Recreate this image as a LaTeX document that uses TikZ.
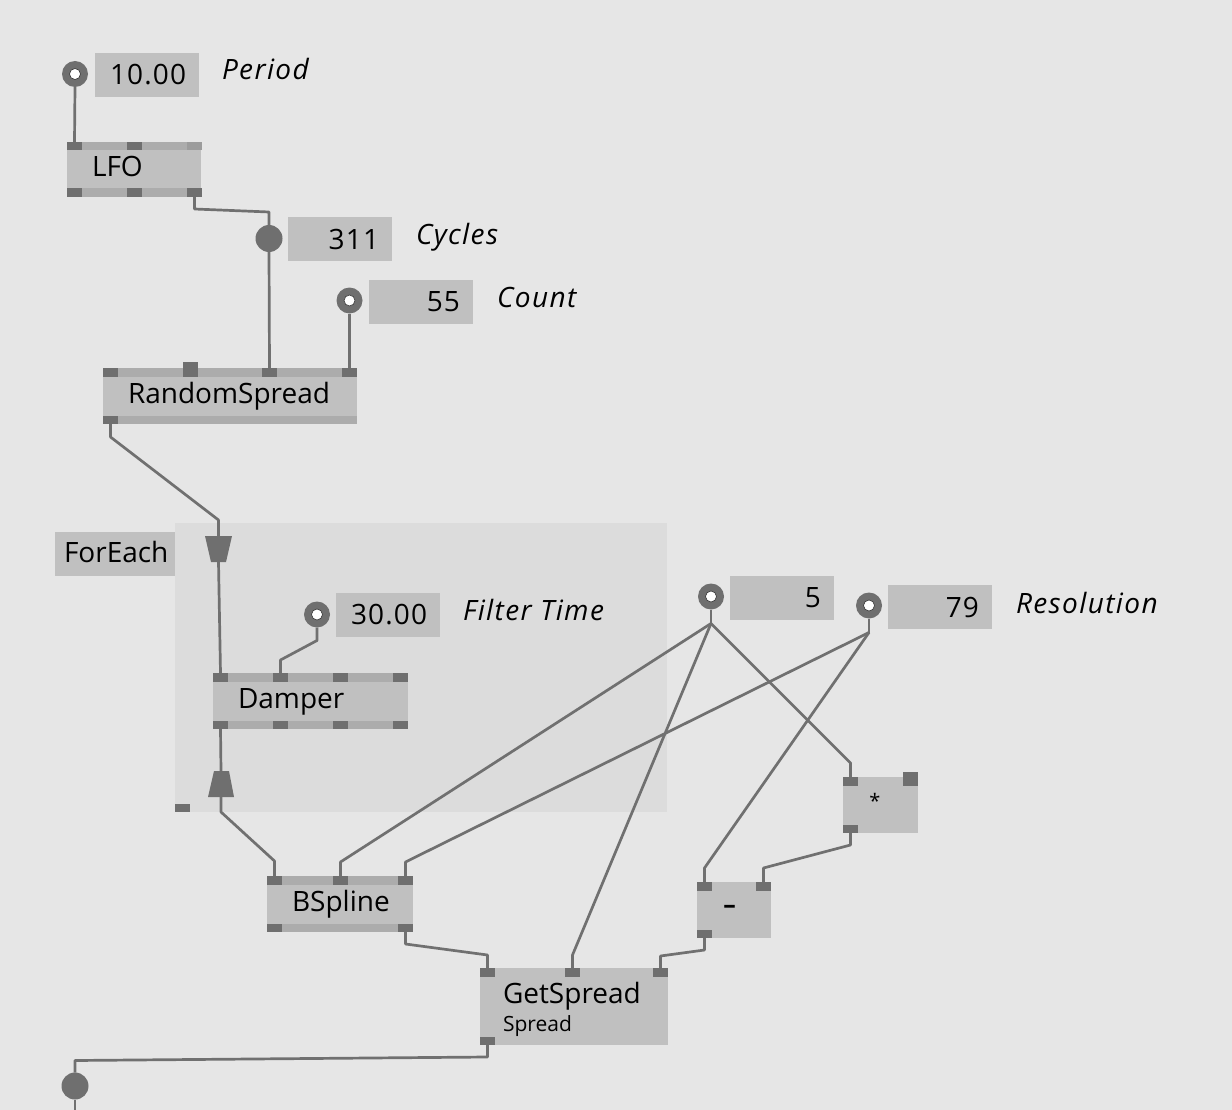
\documentclass[tikz,border=0pt]{standalone}
\usepackage{fontspec}
\setmainfont{Open Sans}
\definecolor{bgc}{HTML}{E6E6E6}
\definecolor{regc}{HTML}{DCDCDC}
\definecolor{boxc}{HTML}{C0C0C0}
\definecolor{stripc}{HTML}{ACACAC}
\definecolor{pinc}{HTML}{6F6F6F}
\definecolor{pinl}{HTML}{9C9C9C}
\definecolor{wirec}{HTML}{707070}
\begin{document}
\begin{tikzpicture}[x=1pt,y=-1pt,
  every node/.style={inner sep=0pt,outer sep=0pt},
  nodebox/.style={fill=boxc,anchor=north west},
  stripbox/.style={fill=stripc,anchor=north west,minimum height=8.5pt},
  pinbox/.style={fill=pinc,anchor=north west,minimum width=15pt,minimum height=8.5pt},
  wirepath/.style={draw=wirec,line width=2.7pt,line join=round},
  ioring/.style={circle,fill=pinc,minimum size=26pt,
    path picture={\fill[white,draw=black!80,line width=0.6pt] (path picture bounding box.center) circle (5.5pt);}},
  iodot/.style={circle,fill=pinc,minimum size=27pt},
  valbox/.style={fill=boxc,anchor=north west,minimum height=44pt,text width=78pt,inner xsep=13pt,align=right,font=\fontsize{28}{30}\selectfont\addfontfeature{LetterSpace=4}},
  lbl/.style={anchor=base west,font=\fontsize{28}{30}\selectfont\itshape\addfontfeature{LetterSpace=5}},
  ntext/.style={anchor=base west,font=\fontsize{28}{30}\selectfont},
]
\useasboundingbox (0,0) rectangle (1232,1110);
\fill[bgc] (0,0) rectangle (1232,1110);

% ForEach region
\node[fill=regc,anchor=north west,minimum width=492pt,minimum height=289pt] (region) at (175,523) {};
\node[nodebox,minimum width=120pt,minimum height=44pt] (fe) at (55,532) {};
\node[ntext] (fe-t) at (64,562) {ForEach};
\node[pinbox,minimum height=8pt] (fe-p) at (175,804) {};
% splicers
\coordinate (splin-t) at (218.5,536);
\coordinate (splin-b) at (218.5,562);
\fill[pinc] (205,536) -- (232,536) -- (226,562) -- (211,562) -- cycle;
\coordinate (splout-t) at (221,771);
\coordinate (splout-b) at (221,797);
\fill[pinc] (214,771) -- (229,771) -- (234,797) -- (208,797) -- cycle;

% Period
\node[ioring] (per) at (75,74) {};
\node[valbox] (per-v) at (95,53) {10.00};
\node[lbl] (per-l) at (222,80) {Period};

% LFO
\node[nodebox,minimum width=134pt,minimum height=55pt] (lfo) at (67,142) {};
\node[stripbox,minimum width=134pt] (lfo-st) at (67,142) {};
\node[stripbox,minimum width=134pt] (lfo-sb) at (67,188.5) {};
\node[pinbox] (lfo-i1) at (67,142) {};
\node[pinbox] (lfo-i2) at (127,142) {};
\node[pinbox,fill=pinl] (lfo-i3) at (187,142) {};
\node[pinbox] (lfo-o1) at (67,188.5) {};
\node[pinbox] (lfo-o2) at (127,188.5) {};
\node[pinbox] (lfo-o3) at (187,188.5) {};
\node[ntext] (lfo-t) at (92,177) {LFO};

% Cycles
\node[iodot] (cyc) at (269,238.5) {};
\node[valbox] (cyc-v) at (288,217) {311};
\node[lbl] (cyc-l) at (416,244) {Cycles};

% Count
\node[ioring] (cnt) at (349.5,300.5) {};
\node[valbox] (cnt-v) at (369,280) {55};
\node[lbl] (cnt-l) at (497,307) {Count};

% RandomSpread
\node[nodebox,minimum width=254pt,minimum height=56pt] (rs) at (103,368) {};
\node[stripbox,minimum width=254pt,minimum height=9pt] (rs-st) at (103,368) {};
\node[stripbox,minimum width=254pt] (rs-sb) at (103,415.5) {};
\node[pinbox,minimum height=9pt] (rs-i1) at (103,368) {};
\node[pinbox,minimum height=15pt] (rs-i2) at (183,362) {};
\node[pinbox,minimum height=9pt] (rs-i3) at (262,368) {};
\node[pinbox,minimum height=9pt] (rs-i4) at (342,368) {};
\node[pinbox] (rs-o1) at (103,415.5) {};
\node[ntext] (rs-t) at (128,403) {RandomSpread};

% Filter Time
\node[ioring] (ft) at (317,614.5) {};
\node[valbox] (ft-v) at (336,593) {30.00};
\node[lbl] (ft-l) at (463,620) {Filter Time};

% Damper
\node[nodebox,minimum width=195pt,minimum height=56pt] (dmp) at (213,673) {};
\node[stripbox,minimum width=195pt,minimum height=9pt] (dmp-st) at (213,673) {};
\node[stripbox,minimum width=195pt] (dmp-sb) at (213,720.5) {};
\node[pinbox,minimum height=9pt] (dmp-i1) at (213,673) {};
\node[pinbox,minimum height=9pt] (dmp-i2) at (273,673) {};
\node[pinbox,minimum height=9pt] (dmp-i3) at (333,673) {};
\node[pinbox,minimum height=9pt] (dmp-i4) at (393,673) {};
\node[pinbox] (dmp-o1) at (213,720.5) {};
\node[pinbox] (dmp-o2) at (273,720.5) {};
\node[pinbox] (dmp-o3) at (333,720.5) {};
\node[pinbox] (dmp-o4) at (393,720.5) {};
\node[ntext] (dmp-t) at (238,708) {Damper};

% 5 and Resolution
\node[ioring] (five) at (711,596.5) {};
\node[valbox] (five-v) at (730,576) {5};
\node[ioring] (res) at (869,605.5) {};
\node[valbox] (res-v) at (888,585) {79};
\node[lbl] (res-l) at (1016,613) {Resolution};

% *
\node[nodebox,minimum width=75pt,minimum height=56pt] (mul) at (843,777) {};
\node[pinbox] (mul-i1) at (843,777) {};
\node[pinbox,minimum height=14pt] (mul-i2) at (903,772) {};
\node[pinbox] (mul-o1) at (843,824.5) {};
\node[font=\fontsize{20}{22}\selectfont] (mul-t) at (875,801) {*};

% -
\node[nodebox,minimum width=74pt,minimum height=56pt] (sub) at (697,882) {};
\node[pinbox] (sub-i1) at (697,882) {};
\node[pinbox] (sub-i2) at (756,882) {};
\node[pinbox] (sub-o1) at (697,929.5) {};
\node[anchor=base,font=\fontsize{25}{27}\selectfont\bfseries] (sub-t) at (729.5,913.5) {–};

% BSpline
\node[nodebox,minimum width=146pt,minimum height=56pt] (bs) at (267,876) {};
\node[stripbox,minimum width=146pt] (bs-st) at (267,876) {};
\node[stripbox,minimum width=146pt] (bs-sb) at (267,923.5) {};
\node[pinbox] (bs-i1) at (267,876) {};
\node[pinbox] (bs-i2) at (333,876) {};
\node[pinbox] (bs-i3) at (398,876) {};
\node[pinbox] (bs-o1) at (267,923.5) {};
\node[pinbox] (bs-o3) at (398,923.5) {};
\node[ntext] (bs-t) at (292,911) {BSpline};

% GetSpread
\node[nodebox,minimum width=188pt,minimum height=77pt] (gs) at (480,968) {};
\node[pinbox] (gs-i1) at (480,968) {};
\node[pinbox] (gs-i2) at (565,968) {};
\node[pinbox] (gs-i3) at (653,968) {};
\node[pinbox] (gs-o1) at (480,1036.5) {};
\node[ntext] (gs-t) at (503,1003) {GetSpread};
\node[ntext,font=\fontsize{21}{23}\selectfont] (gs-s) at (503,1031) {Spread};

% output
\node[iodot] (outd) at (75,1086) {};
\coordinate (outend) at (75,1112);

% wires
\path (five.south) ++(0,14) coordinate (fj);
\path (res.south) ++(0,14) coordinate (rj);
\draw[wirepath] (per.south) -- (lfo-i1.north);
\draw[wirepath] (lfo-o3.south) -- ++(0,12) -- ([yshift=13pt]cyc.north) -- (cyc.north);
\draw[wirepath] (cyc.south) -- (rs-i3.north);
\draw[wirepath] (cnt.south) -- (rs-i4.north);
\draw[wirepath] (rs-o1.south) -- ++(0,13) -- ([yshift=16pt]splin-t) -- (splin-t);
\draw[wirepath] (splin-b) -- (dmp-i1.north);
\draw[wirepath] (ft.south) -- ++(0,13) -- ([yshift=13pt]dmp-i2.north) -- (dmp-i2.north);
\draw[wirepath] (dmp-o1.south) -- (splout-t);
\draw[wirepath] (splout-b) -- ++(0,15) -- ([yshift=15pt]bs-i1.north) -- (bs-i1.north);
\draw[wirepath] (five.south) -- (fj);
\draw[wirepath] (fj) -- ([yshift=14pt]bs-i2.north) -- (bs-i2.north);
\draw[wirepath] (fj) -- ([yshift=13pt]gs-i2.north) -- (gs-i2.north);
\draw[wirepath] (fj) -- ([yshift=14pt]mul-i1.north) -- (mul-i1.north);
\draw[wirepath] (res.south) -- (rj);
\draw[wirepath] (rj) -- ([yshift=14pt]bs-i3.north) -- (bs-i3.north);
\draw[wirepath] (rj) -- ([yshift=14pt]sub-i1.north) -- (sub-i1.north);
\draw[wirepath] (mul-o1.south) -- ++(0,12) -- ([yshift=14pt]sub-i2.north) -- (sub-i2.north);
\draw[wirepath] (sub-o1.south) -- ++(0,12) -- ([yshift=12pt]gs-i3.north) -- (gs-i3.north);
\draw[wirepath] (bs-o3.south) -- ++(0,12) -- ([yshift=13pt]gs-i1.north) -- (gs-i1.north);
\draw[wirepath] (gs-o1.south) -- ++(0,12) -- ([yshift=12pt]outd.north) -- (outd.north);
\draw[wirepath] (outd.south) -- (outend);
\end{tikzpicture}
\end{document}
